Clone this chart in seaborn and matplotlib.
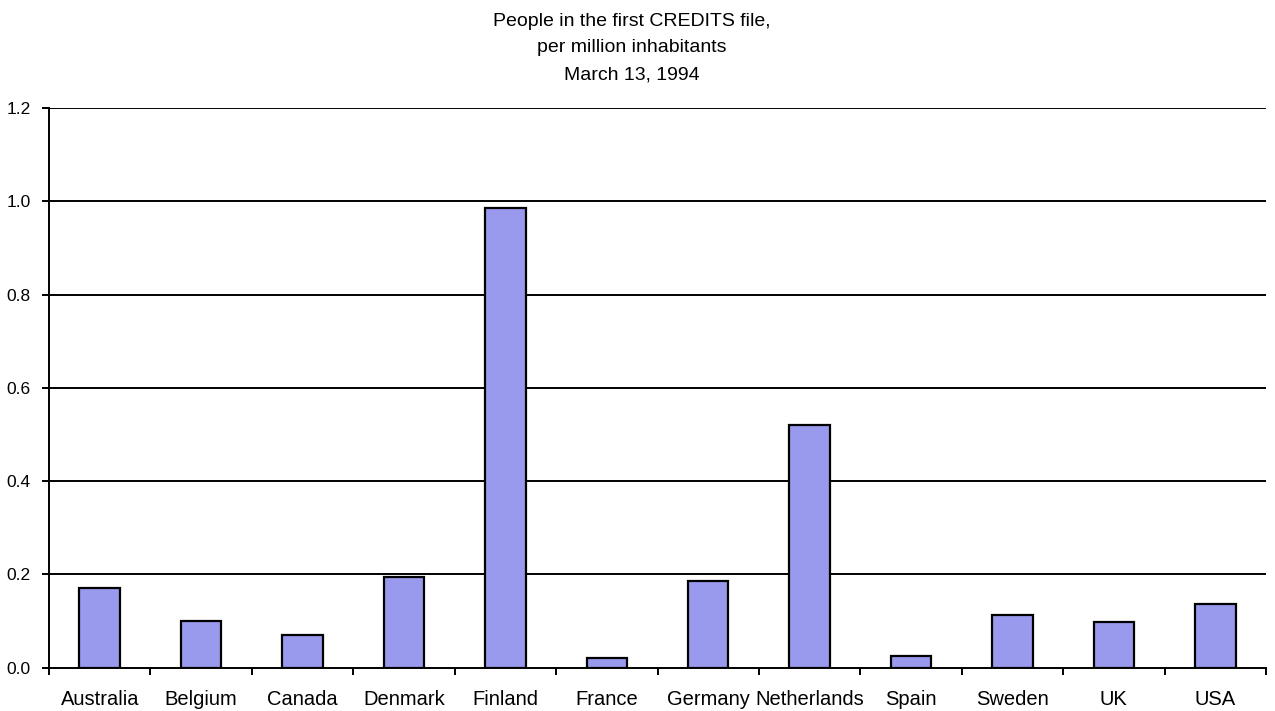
import matplotlib
matplotlib.use("Agg")
import matplotlib.pyplot as plt
import seaborn as sns
import numpy as np
import pandas as pd

countries = ["Australia", "Belgium", "Canada", "Denmark", "Finland", "France",
             "Germany", "Netherlands", "Spain", "Sweden", "UK", "USA"]
values = [0.17, 0.10, 0.069, 0.195, 0.986, 0.02, 0.186, 0.521, 0.025, 0.113, 0.098, 0.137]
yticks = [0.0, 0.2, 0.4, 0.6, 0.8, 1.0, 1.2]
title = "People in the first CREDITS file,\nper million inhabitants\nMarch 13, 1994"

sns.set_theme(style="white")
plt.rcParams['font.family'] = ['Liberation Sans', 'DejaVu Sans']

df = pd.DataFrame({"country": countries, "value": values})

fig = plt.figure(figsize=(12.75, 7.11), dpi=100)
ax = fig.add_axes([49/1275, 1 - 667.5/711, (1266 - 49)/1275, (667.5 - 108.3)/711])

sns.barplot(data=df, x="country", y="value", color="#9999EE", saturation=1,
            width=0.4, edgecolor="black", linewidth=1.6, ax=ax, zorder=3)

ax.set_ylim(0, 1.2)
ax.set_xlim(-0.5, len(countries) - 0.5)
ax.set_yticks(yticks)
ax.set_yticklabels([f"{t:.1f}" for t in yticks])
for t in yticks[1:]:
    ax.axhline(t, color="black", linewidth=1.4, zorder=1)

ax.set_xlabel("")
ax.set_ylabel("")
ax.set_xticks(np.arange(len(countries)))
ax.set_xticklabels(countries)
ax.set_xticks(np.arange(-0.5, len(countries)), minor=True)
ax.tick_params(axis="x", which="major", length=0, pad=16, labelsize=14.5, colors="black")
ax.tick_params(axis="x", which="minor", length=5, width=1.4, color="black", direction="out", bottom=True)
ax.tick_params(axis="y", which="major", length=5, width=1.4, color="black", direction="out",
               left=True, pad=8, labelsize=12.5, labelcolor="black")

for s in ["top", "right"]:
    ax.spines[s].set_visible(False)
for s in ["left", "bottom"]:
    ax.spines[s].set_visible(True)
    ax.spines[s].set_color("black")
    ax.spines[s].set_linewidth(1.4)

fig.text(0.4955, 0.982, title, ha="center", va="top", fontsize=14, linespacing=1.74, color="black")

fig.savefig("out.png", dpi=100)
